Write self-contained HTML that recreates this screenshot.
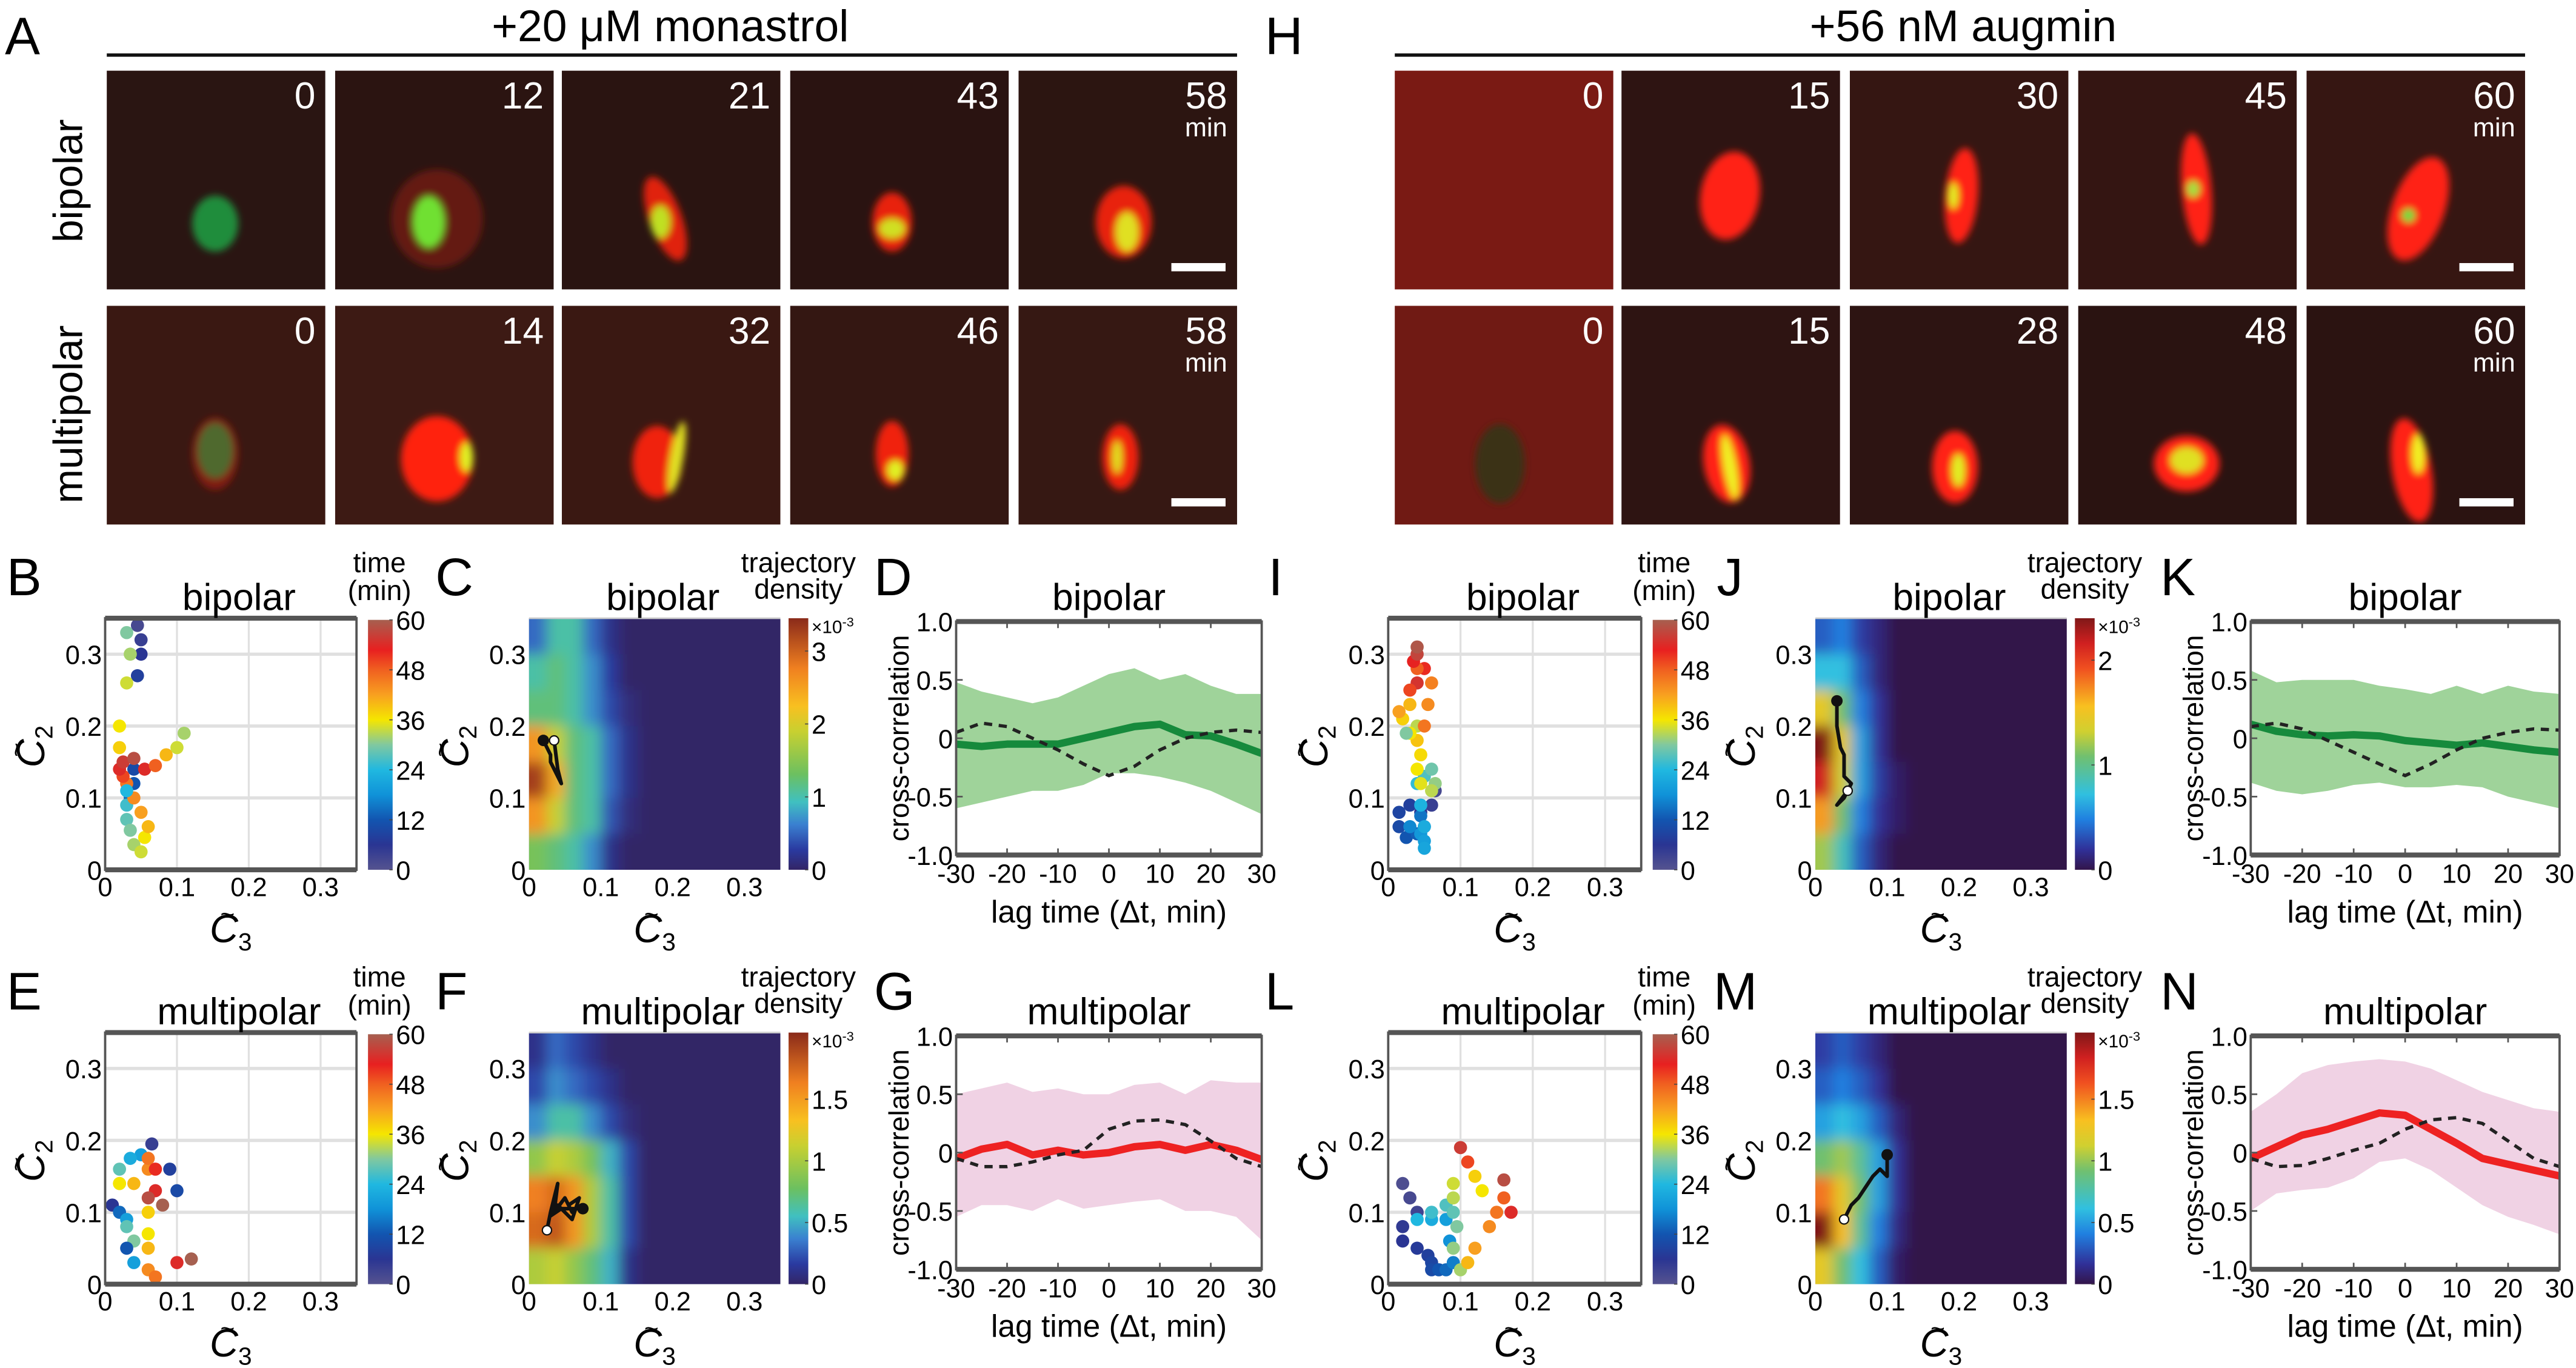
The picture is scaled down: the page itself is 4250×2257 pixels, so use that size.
<!DOCTYPE html>
<html><head><meta charset="utf-8">
<style>
html,body{margin:0;padding:0;background:#fff;}
svg{display:block;}
text{font-family:"Liberation Sans Narrow","Liberation Sans",sans-serif;}
</style></head>
<body>
<svg id="fig" xmlns="http://www.w3.org/2000/svg" width="4250" height="2257" viewBox="0 0 1568 832" preserveAspectRatio="none">
<defs>
<filter id="blurImg" x="-50%" y="-50%" width="200%" height="200%"><feGaussianBlur stdDeviation="2.2"/></filter>
<filter id="blurHeat" x="-20%" y="-20%" width="140%" height="140%"><feGaussianBlur stdDeviation="4"/></filter>
</defs>
</svg>
<script>
// ---------------- DATA ----------------
const lags = [-30,-25,-20,-15,-10,-5,0,5,10,15,20,25,30];
// D: monastrol bipolar
const dMean  = [-0.05,-0.07,-0.05,-0.05,-0.05,0.0,0.05,0.1,0.12,0.03,0.02,-0.05,-0.13];
const dUpper = [0.48,0.4,0.35,0.3,0.35,0.45,0.55,0.6,0.5,0.55,0.45,0.38,0.38];
const dLower = [-0.6,-0.55,-0.5,-0.45,-0.45,-0.4,-0.3,-0.3,-0.33,-0.38,-0.45,-0.55,-0.65];
const dDash  = [0.05,0.13,0.1,0.0,-0.1,-0.22,-0.32,-0.24,-0.1,0.0,0.05,0.07,0.05];
// G: monastrol multipolar
const gMean  = [-0.05,0.03,0.07,-0.02,0.02,-0.02,0.0,0.05,0.07,0.02,0.07,0.02,-0.06];
const gUpper = [0.5,0.55,0.6,0.52,0.55,0.5,0.5,0.58,0.6,0.5,0.62,0.6,0.6];
const gLower = [-0.55,-0.45,-0.45,-0.5,-0.4,-0.48,-0.45,-0.42,-0.4,-0.5,-0.5,-0.55,-0.75];
const gDash  = [-0.05,-0.12,-0.12,-0.08,-0.02,0.02,0.2,0.27,0.28,0.24,0.1,-0.05,-0.12];
// K: augmin bipolar
const kMean  = [0.12,0.06,0.03,0.02,0.03,0.02,-0.02,-0.04,-0.06,-0.04,-0.07,-0.1,-0.12];
const kUpper = [0.58,0.48,0.5,0.5,0.5,0.45,0.42,0.38,0.45,0.38,0.45,0.4,0.38];
const kLower = [-0.38,-0.45,-0.48,-0.45,-0.4,-0.38,-0.42,-0.42,-0.4,-0.42,-0.5,-0.55,-0.6];
const kDash  = [0.1,0.13,0.08,-0.02,-0.12,-0.22,-0.32,-0.22,-0.1,0.0,0.05,0.08,0.07];
// N: augmin multipolar
const nMean  = [-0.05,0.05,0.15,0.2,0.27,0.34,0.32,0.2,0.08,-0.05,-0.1,-0.15,-0.2];
const nUpper = [0.35,0.5,0.68,0.75,0.78,0.8,0.78,0.72,0.62,0.52,0.45,0.38,0.35];
const nLower = [-0.5,-0.35,-0.32,-0.3,-0.22,-0.08,-0.05,-0.15,-0.3,-0.45,-0.55,-0.62,-0.7];
const nDash  = [-0.05,-0.12,-0.11,-0.05,0.02,0.08,0.2,0.28,0.3,0.25,0.1,-0.05,-0.12];

// scatter trajectories: c3, c2, time
const bC3 = [0.045,0.05,0.05,0.045,0.04,0.04,0.035,0.03,0.03,0.035,0.04,0.05,0.055,0.06,0.05,0.04,0.03,0.025,0.02,0.025,0.04,0.055,0.07,0.085,0.1,0.11,0.03,0.035,0.03,0.02,0.02,0.03];
const bC2 = [0.34,0.32,0.3,0.27,0.14,0.12,0.1,0.09,0.07,0.055,0.035,0.025,0.045,0.06,0.08,0.1,0.12,0.13,0.14,0.15,0.155,0.14,0.145,0.16,0.17,0.19,0.33,0.3,0.26,0.2,0.17,0.11];
const bT  = [2,4,6,8,10,12,14,26,28,30,32,34,36,40,42,44,46,50,54,56,58,54,48,40,34,32,30,32,34,36,38,24];
const eC3 = [0.065,0.05,0.035,0.02,0.02,0.02,0.04,0.06,0.06,0.07,0.07,0.09,0.1,0.06,0.08,0.01,0.02,0.03,0.03,0.04,0.06,0.06,0.06,0.03,0.04,0.06,0.07,0.1,0.12];
const eC2 = [0.195,0.18,0.175,0.16,0.14,0.14,0.14,0.16,0.175,0.16,0.13,0.16,0.13,0.12,0.11,0.11,0.1,0.09,0.08,0.06,0.07,0.1,0.05,0.05,0.03,0.02,0.01,0.03,0.035];
const eT  = [4,20,22,28,34,36,40,44,46,52,54,8,10,58,60,6,14,20,28,30,36,38,40,12,20,44,46,54,60];
const iC3 = [0.065,0.06,0.045,0.03,0.015,0.015,0.025,0.04,0.05,0.045,0.03,0.045,0.05,0.05,0.05,0.045,0.04,0.05,0.06,0.065,0.06,0.045,0.04,0.045,0.04,0.04,0.03,0.02,0.03,0.015,0.025,0.05,0.055,0.06,0.05,0.04,0.03,0.04,0.035,0.04,0.04];
const iC2 = [0.11,0.09,0.08,0.09,0.08,0.06,0.045,0.05,0.06,0.075,0.06,0.05,0.04,0.03,0.06,0.09,0.12,0.13,0.14,0.12,0.11,0.12,0.14,0.16,0.18,0.2,0.19,0.21,0.23,0.22,0.19,0.2,0.23,0.26,0.28,0.26,0.25,0.28,0.29,0.3,0.31];
const iT  = [2,4,6,8,9,10,12,13,14,15,17,19,20,21,22,23,25,27,29,31,33,35,36,37,39,33,36,38,40,42,30,46,44,45,52,55,50,48,53,57,59];
const lC3 = [0.02,0.03,0.04,0.02,0.02,0.04,0.055,0.06,0.06,0.07,0.08,0.09,0.085,0.08,0.06,0.04,0.06,0.08,0.09,0.095,0.09,0.1,0.11,0.12,0.14,0.15,0.16,0.17,0.16,0.13,0.12,0.11,0.1,0.09,0.09];
const lC2 = [0.14,0.12,0.1,0.08,0.06,0.05,0.04,0.03,0.02,0.02,0.02,0.03,0.06,0.09,0.09,0.09,0.1,0.11,0.1,0.08,0.05,0.02,0.03,0.05,0.08,0.1,0.12,0.1,0.145,0.13,0.15,0.17,0.19,0.14,0.12];
const lT  = [1,2,3,5,6,7,8,9,10,12,14,16,18,20,22,24,26,27,28,30,31,32,40,42,44,46,48,54,58,36,38,50,56,34,33];

// heatmap density grids (rows from C2=0.35 down to 0 in 0.05 steps; cols from C3=0 in 0.025 steps, rest zero), normalized to colorbar max
const cGrid = [[0.15,0.3,0.3,0.15,0.05,0],[0.3,0.35,0.3,0.2,0.08,0],[0.35,0.35,0.3,0.2,0.1,0.03],[0.75,0.55,0.35,0.3,0.15,0.05],[0.95,0.7,0.35,0.3,0.15,0.05],[0.75,0.55,0.35,0.3,0.12,0.03],[0.4,0.35,0.3,0.2,0.05,0]];
const fGrid = [[0.05,0.15,0.1,0.05,0,0,0],[0.1,0.2,0.15,0.1,0.05,0,0],[0.2,0.3,0.3,0.2,0.1,0.03,0],[0.45,0.55,0.5,0.4,0.25,0.1,0],[0.8,0.85,0.75,0.5,0.3,0.1,0],[0.85,0.9,0.75,0.5,0.3,0.1,0],[0.5,0.55,0.45,0.35,0.25,0.05,0]];
const jGrid = [[0.15,0.2,0.1,0.05,0],[0.3,0.3,0.15,0.05,0],[0.6,0.45,0.2,0.08,0],[1.0,0.6,0.25,0.08,0],[0.9,0.55,0.25,0.1,0.03],[0.7,0.45,0.2,0.08,0.03],[0.5,0.35,0.15,0.05,0]];
const mGrid = [[0.1,0.15,0.1,0.05,0,0],[0.15,0.2,0.15,0.08,0,0],[0.25,0.3,0.25,0.15,0.05,0],[0.45,0.5,0.4,0.25,0.08,0],[0.75,0.6,0.45,0.25,0.08,0],[1.0,0.65,0.4,0.2,0.06,0],[0.6,0.45,0.3,0.15,0.03,0]];
// overlay trajectories
const cTrC3 = [0.02,0.025,0.03,0.03,0.035,0.04,0.045,0.04,0.035];
const cTrC2 = [0.18,0.17,0.16,0.15,0.14,0.13,0.12,0.14,0.18];
const fTrC3 = [0.025,0.03,0.04,0.035,0.05,0.06,0.055,0.07,0.06,0.05,0.04,0.03,0.045,0.075];
const fTrC2 = [0.075,0.1,0.14,0.1,0.12,0.1,0.11,0.12,0.09,0.1,0.11,0.095,0.105,0.105];
const jTrC3 = [0.03,0.03,0.035,0.04,0.04,0.05,0.045,0.04,0.03,0.045];
const jTrC2 = [0.235,0.2,0.17,0.16,0.13,0.12,0.11,0.1,0.09,0.11];
const mTrC3 = [0.04,0.045,0.05,0.06,0.07,0.08,0.09,0.1,0.1,0.1];
const mTrC2 = [0.09,0.1,0.11,0.12,0.135,0.15,0.16,0.15,0.16,0.18];

const tTicks = [0,12,24,36,48,60];
const axTicks = [0,0.1,0.2,0.3];
const lagTicks = [-30,-20,-10,0,10,20,30];
const ccTicks = [-1,-0.5,0,0.5,1];
const ccTickLabels = ['-1.0','-0.5','0','0.5','1.0'];

// ---------------- HELPERS ----------------
const NS='http://www.w3.org/2000/svg';
const svg=document.getElementById('fig');
const defs=svg.querySelector('defs');
function mk(tag,attrs,parent){const e=document.createElementNS(NS,tag);for(const k in attrs)e.setAttribute(k,attrs[k]);(parent||svg).appendChild(e);return e;}
function txt(x,y,s,size,anchor,parent,extra){const e=mk('text',Object.assign({x:x,y:y,'font-size':size,'text-anchor':anchor||'middle',fill:'#000'},extra||{}),parent);e.textContent=s;return e;}
function lin(d0,d1,r0,r1){return v=>r0+(v-d0)/(d1-d0)*(r1-r0);}
function hex(c){return [parseInt(c.slice(1,3),16),parseInt(c.slice(3,5),16),parseInt(c.slice(5,7),16)];}
function cmap(stops,v){v=Math.max(0,Math.min(1,v));for(let i=1;i<stops.length;i++){if(v<=stops[i][0]){const a=stops[i-1],b=stops[i];const f=(v-a[0])/(b[0]-a[0]||1);const A=hex(a[1]),B=hex(b[1]);return 'rgb('+A.map((x,k)=>Math.round(x+(B[k]-x)*f)).join(',')+')';}}return stops[stops.length-1][1];}
const timeCM=[[0,'#55538f'],[0.1,'#2a3593'],[0.2,'#1255b0'],[0.3,'#1092d8'],[0.4,'#20b8e0'],[0.5,'#80c8a0'],[0.6,'#f5e600'],[0.7,'#f8a020'],[0.8,'#f06020'],[0.88,'#e82020'],[1,'#a66050']];
const parCM=[[0,'#332566'],[0.08,'#2a3aa0'],[0.18,'#3a80d0'],[0.27,'#40c0c0'],[0.38,'#6cc060'],[0.55,'#c8d030'],[0.65,'#f8c020'],[0.8,'#f08020'],[1,'#8a2a1a']];
const jetCM=[[0,'#33154a'],[0.08,'#303098'],[0.2,'#2080e0'],[0.3,'#30c0e0'],[0.45,'#70c070'],[0.55,'#d0d030'],[0.65,'#f8c020'],[0.8,'#f05020'],[0.9,'#d02020'],[1,'#801818']];
let gid=0;

function colorbar(x,y0,y1,w,stops,ticks,labels,vmax,name,expo){
  const id='cg'+(gid++);
  const g=mk('linearGradient',{id:id,x1:0,y1:1,x2:0,y2:0},defs);
  stops.forEach(s=>mk('stop',{offset:s[0],'stop-color':s[1]},g));
  const r=mk('rect',{x:x,y:y0,width:w,height:y1-y0,fill:'url(#'+id+')'});
  
  
  const sy=lin(0,vmax,y1,y0);
  ticks.forEach((t,i)=>{
    const lb=txt(x+w+2,sy(t)+6,labels[i],16,'start');
    
    
    mk('line',{x1:x+w-2,x2:x+w,y1:sy(t),y2:sy(t),stroke:'#444','stroke-width':0.6});
  });
  if(expo){const e=txt(x+w+2,y0+9,'×10',11,'start');const sp=mk('tspan',{dy:-4,'font-size':8},e);sp.textContent='-3';}
}

function c3label(cx,y,parent){const e=txt(cx,y,'C',24,'middle',parent,{'font-style':'italic'});const s=mk('tspan',{dy:5,'font-size':15,'font-style':'normal'},e);s.textContent='3';const tl=txt(cx-2,y-12,'~',15,'middle',parent);return e;}
function c2label(x,cy){const g=mk('g',{transform:'translate('+x+','+cy+') rotate(-90)'});const e=txt(0,0,'C',24,'middle',g,{'font-style':'italic'});const s=mk('tspan',{dy:5,'font-size':15,'font-style':'normal'},e);s.textContent='2';txt(-2,-12,'~',15,'middle',g);return g;}

function ticksC(x0,x1,y0,y1,sx,sy,name){
  axTicks.forEach(t=>{
    const a=txt(sx(t),y1+16,String(t),16,'middle');
    
    
    const b=txt(x0-2,sy(t)+6,String(t),16,'end');
    
    
  });
}

function scatterPanel(x0,x1,y0,y1,c3,c2,t,title,name){
  const sx=lin(0,0.35,x0,x1), sy=lin(0,0.35,y1,y0);
  const bg=mk('rect',{x:x0,y:y0,width:x1-x0,height:y1-y0,fill:'#fff'});
  
  
  axTicks.slice(1).forEach(v=>{
    mk('line',{x1:sx(v),x2:sx(v),y1:y0,y2:y1,stroke:'#e0e0e0','stroke-width':1.2});
    mk('line',{x1:x0,x2:x1,y1:sy(v),y2:sy(v),stroke:'#e0e0e0','stroke-width':2});
  });
  c3.forEach((v,i)=>{
    const c=mk('circle',{cx:sx(v),cy:sy(c2[i]),r:4,fill:cmap(timeCM,t[i]/60)});
    
    
  });
  const box=mk('rect',{x:x0,y:y0,width:x1-x0,height:y1-y0,fill:'none',stroke:'#555','stroke-width':1.4});
  
  
  mk('line',{x1:x0,x2:x1,y1:y0,y2:y0,stroke:'#555','stroke-width':3});
  mk('line',{x1:x0,x2:x1,y1:y1,y2:y1,stroke:'#555','stroke-width':3});
  ticksC(x0,x1,y0,y1,sx,sy,name);
  const tt=txt((x0+x1)/2+5,y0-5,title,23,'middle');
  
  
  const xl=c3label((x0+x1)/2,y1+44);
  
  
  c2label(x0-37,y0+78);
  colorbar(x1+7,y0+1,y1,15,timeCM,tTicks,tTicks.map(String),60,name+'-time-colorbar',false);
  const t1=txt(x1+14,y0-28,'time',17,'middle');
  
  
  const t2=txt(x1+14,y0-11,'(min)',17,'middle');
  
  
}

function heatPanel(x0,x1,y0,y1,grid,stops,trC3,trC2,startWhiteIdx,cbTicks,cbLabels,vmax,title,name){
  const sx=lin(0,0.35,x0,x1), sy=lin(0,0.35,y1,y0);
  const cid='clip'+(gid++);
  const cp=mk('clipPath',{id:cid},defs);
  mk('rect',{x:x0,y:y0,width:x1-x0,height:y1-y0},cp);
  const g=mk('g',{'clip-path':'url(#'+cid+')'});
  
  
  mk('rect',{x:x0,y:y0,width:x1-x0,height:y1-y0,fill:cmap(stops,0)},g);
  const hg=mk('g',{filter:'url(#blurHeat)'},g);
  mk('rect',{x:x0-20,y:y0-20,width:x1-x0+40,height:y1-y0+40,fill:cmap(stops,0)},hg);
  const n=grid.length;
  grid.forEach((row,r)=>row.forEach((v,c)=>{
    const cx0=sx(c*0.025)-(c===0?20:0), cx1=sx((c+1)*0.025);
    const cy0=sy(0.35-r*0.05)-(r===0?20:0), cy1=sy(0.35-(r+1)*0.05)+(r===n-1?20:0);
    const cell=mk('rect',{x:cx0,y:cy0,width:cx1-cx0+0.5,height:cy1-cy0+0.5,fill:cmap(stops,v)},hg);
    
    
  }));
  const pts=trC3.map((v,i)=>sx(v)+','+sy(trC2[i])).join(' ');
  const pl=mk('polyline',{points:pts,fill:'none',stroke:'#111','stroke-width':2.2,'stroke-linejoin':'round'},g);
  
  
  const last=trC3.length-1;
  const bd=mk('circle',{cx:sx(trC3[startWhiteIdx===0?last:0]),cy:sy(trC2[startWhiteIdx===0?last:0]),r:3.5,fill:'#111'},g);
  
  
  const wd=mk('circle',{cx:sx(trC3[startWhiteIdx]),cy:sy(trC2[startWhiteIdx]),r:2.8,fill:'#fff',stroke:'#111','stroke-width':0.8},g);
  
  
  mk('line',{x1:x0,x2:x1,y1:y0,y2:y0,stroke:'#ccc','stroke-width':1});
  ticksC(x0,x1,y0,y1,sx,sy,name);
  const tt=txt((x0+x1)/2+5,y0-5,title,23,'middle');
  
  
  const xl=c3label((x0+x1)/2,y1+44);
  
  
  c2label(x0-37,y0+78);
  colorbar(x1+5,y0,y1,12,stops,cbTicks,cbLabels,vmax,name+'-density-colorbar',true);
  const t1=txt(x1+11,y0-28,'trajectory',17,'middle');
  
  
  const t2=txt(x1+11,y0-12,'density',17,'middle');
  
  
}

function xcorrPanel(x0,x1,y0,y1,mean,upper,lower,dash,lineCol,bandCol,title,name){
  const sx=lin(-30,30,x0,x1), sy=lin(-1,1,y1,y0);
  const cid='clip'+(gid++);
  const cp=mk('clipPath',{id:cid},defs);
  mk('rect',{x:x0,y:y0,width:x1-x0,height:y1-y0},cp);
  const g=mk('g',{'clip-path':'url(#'+cid+')'});
  const bandPts=lags.map((l,i)=>sx(l)+','+sy(upper[i])).concat(lags.slice().reverse().map((l,j)=>{const i=lags.length-1-j;return sx(l)+','+sy(lower[i]);})).join(' ');
  const band=mk('polygon',{points:bandPts,fill:bandCol},g);
  
  
  const ml=mk('polyline',{points:lags.map((l,i)=>sx(l)+','+sy(mean[i])).join(' '),fill:'none',stroke:lineCol,'stroke-width':4.5,'stroke-linejoin':'round'},g);
  
  
  const dl=mk('polyline',{points:lags.map((l,i)=>sx(l)+','+sy(dash[i])).join(' '),fill:'none',stroke:'#222','stroke-width':2,'stroke-dasharray':'5,4'},g);
  
  
  const box=mk('rect',{x:x0,y:y0,width:x1-x0,height:y1-y0,fill:'none',stroke:'#555','stroke-width':1.4});
  
  
  mk('line',{x1:x0,x2:x1,y1:y0,y2:y0,stroke:'#555','stroke-width':3});
  mk('line',{x1:x0,x2:x1,y1:y1,y2:y1,stroke:'#555','stroke-width':3});
  lagTicks.forEach(l=>{
    mk('line',{x1:sx(l),x2:sx(l),y1:y0,y2:y0+4,stroke:'#555','stroke-width':1});
    mk('line',{x1:sx(l),x2:sx(l),y1:y1,y2:y1-4,stroke:'#555','stroke-width':1});
    const a=txt(sx(l),y1+17,String(l),16,'middle');
    
    
  });
  ccTicks.forEach((v,i)=>{
    mk('line',{x1:x0,x2:x0+4,y1:sy(v),y2:sy(v),stroke:'#555','stroke-width':1});
    const b=txt(x0-2,sy(v)+6,ccTickLabels[i],16,'end');
    
    
  });
  const tt=txt((x0+x1)/2,y0-7,title,23,'middle');
  
  
  const xl=txt((x0+x1)/2,y1+41,'lag time (Δt, min)',19,'middle');
  
  
  const yl=txt(0,0,'cross-correlation',17,'middle',null,{transform:'translate('+(x0-29)+','+((y0+y1)/2)+') rotate(-90)',style:'font-family:"Liberation Sans",sans-serif'});
  
  
}

// ---------------- MICROSCOPY ----------------
const frameXA=[65,204,342,481,620], frameXH=[849,987,1126,1265,1404];
const frameW=133, frameRowY=[43,186], frameH=133;
const labA=[['0','12','21','43','58'],['0','14','32','46','58']];
const labH=[['0','15','30','45','60'],['0','15','28','48','60']];
const bgA=[['#2a1512','#2b1411','#2a1411','#2a1311','#2c1511'],['#3a1812','#3d1a14','#3a1812','#341712','#361813']];
const bgH=[['#7a1a14','#2e1412','#351612','#341512','#361612'],['#701a14','#2e1412','#2d1412','#2a1311','#2b1311']];
// blobs: [cx,cy,rx,ry,rot,color,opacity]
const blobsA=[
 [[[66,93,14,17,0,'#1f9a40',0.9]],[[62,90,28,30,0,'#8a1a10',0.6],[57,92,10,16,0,'#70e030',1]],[[63,90,10,27,-20,'#e02010',1],[60,92,6,10,0,'#c0e020',1]],[[62,92,12,18,0,'#e82010',1],[62,96,8,6,0,'#d0e020',1]],[[64,92,17,22,0,'#e82010',1],[66,98,7,12,0,'#e0e020',1]]],
 [[[66,90,14,22,0,'#a02010',0.7],[66,88,11,17,0,'#3a8a3a',0.7]],[[62,93,22,26,0,'#ff2010',1],[80,92,4,9,0,'#e0f020',1]],[[58,95,15,22,0,'#f02010',1],[70,92,4,22,10,'#e0e020',1]],[[62,90,10,20,0,'#f02010',1],[64,100,5,6,0,'#e0f020',1]],[[62,92,11,20,0,'#f02010',1],[60,92,3,10,0,'#e0e020',1]]]
];
const blobsH=[
 [[],[[66,76,18,27,10,'#ff2418',1]],[[68,76,10,29,5,'#ff2418',1],[63,76,3,8,0,'#e0f020',1]],[[72,72,9,34,-5,'#ff2418',1],[70,72,4,5,0,'#a0e040',1]],[[68,84,16,33,20,'#ff2418',1],[62,88,4,4,0,'#60e040',1]]],
 [[[64,96,15,24,0,'#3a3018',1]],[[64,96,14,24,-10,'#ff2418',1],[66,98,4,20,-10,'#f0f020',1]],[[64,98,14,22,0,'#ff2418',1],[66,100,4,10,0,'#e0f020',1]],[[66,96,20,17,0,'#ff2418',1],[66,94,10,8,0,'#e0e020',1]],[[64,100,12,32,-10,'#ff2418',1],[68,90,4,12,0,'#f0f020',1]]]
];
function frames(xs,labs,bgs,blobs,group){
  for(let r=0;r<2;r++)for(let c=0;c<5;c++){
    const x=xs[c],y=frameRowY[r];
    const g=mk('g',{});
    
    
    const cid='clip'+(gid++);const cp=mk('clipPath',{id:cid},defs);mk('rect',{x:x,y:y,width:frameW,height:frameH},cp);
    mk('rect',{x:x,y:y,width:frameW,height:frameH,fill:bgs[r][c]},g);
    const bg=mk('g',{filter:'url(#blurImg)','clip-path':'url(#'+cid+')'},g);
    blobs[r][c].forEach(b=>mk('ellipse',{cx:x+b[0],cy:y+b[1],rx:b[2],ry:b[3],fill:b[5],opacity:b[6],transform:'rotate('+b[4]+','+(x+b[0])+','+(y+b[1])+')'},bg));
    const tl=txt(x+frameW-6,y+23,labs[r][c],23,'end',g,{fill:'#fff'});
    
    
    if(c===4){
      const m=txt(x+frameW-6,y+40,'min',16,'end',g,{fill:'#fff'});
      
      
      const sb=mk('rect',{x:x+frameW-40,y:y+frameH-16,width:33,height:5,fill:'#fff'},g);
      
      
    }
  }
}
frames(frameXA,labA,bgA,blobsA,'monastrol');
frames(frameXH,labH,bgH,blobsH,'augmin');

// headers
[['+20 μM monastrol',408,65,753,'monastrol-header'],['+56 nM augmin',1195,849,1537,'augmin-header']].forEach(h=>{
  const t=txt(h[1],25,h[0],27,'middle');
  
  
  const l=mk('line',{x1:h[2],x2:h[3],y1:33.5,y2:33.5,stroke:'#111','stroke-width':2});
  
  
});
[['bipolar',110],['multipolar',252]].forEach(r=>{
  const t=txt(0,0,r[0],25,'middle',null,{transform:'translate(50,'+r[1]+') rotate(-90)',style:'font-family:"Liberation Sans",sans-serif'});
  
  
});

// panel letters
[['A',3,33],['H',770,33],['B',4,362],['C',265,362],['D',532,362],['E',4,614],['F',265,614],['G',532,614],['I',772,362],['J',1045,362],['K',1315,362],['L',770,614],['M',1043,614],['N',1315,614]].forEach(p=>{
  const t=txt(p[1],p[2],p[0],32,'start');
  
  
});

// ---------------- PANELS ----------------
const R1=376,R2=628;
scatterPanel(64,217,R1,R1+153,bC3,bC2,bT,'bipolar','panel-b');
scatterPanel(64,217,R2,R2+153,eC3,eC2,eT,'multipolar','panel-e');
scatterPanel(845,999,R1,R1+153,iC3,iC2,iT,'bipolar','panel-i');
scatterPanel(845,999,R2,R2+153,lC3,lC2,lT,'multipolar','panel-l');
heatPanel(322,475,R1,R1+153,cGrid,parCM,cTrC3,cTrC2,8,[0,1,2,3],['0','1','2','3'],3.45,'bipolar','panel-c');
heatPanel(322,475,R2,R2+153,fGrid,parCM,fTrC3,fTrC2,0,[0,0.5,1,1.5],['0','0.5','1','1.5'],2.04,'multipolar','panel-f');
heatPanel(1105,1258,R1,R1+153,jGrid,jetCM,jTrC3,jTrC2,9,[0,1,2],['0','1','2'],2.4,'bipolar','panel-j');
heatPanel(1105,1258,R2,R2+153,mGrid,jetCM,mTrC3,mTrC2,0,[0,0.5,1,1.5],['0','0.5','1','1.5'],2.04,'multipolar','panel-m');
xcorrPanel(582,768,378,520,dMean,dUpper,dLower,dDash,'#168a3c','#9fd39a','bipolar','panel-d');
xcorrPanel(582,768,630,772,gMean,gUpper,gLower,gDash,'#ee2222','#f0d2e4','multipolar','panel-g');
xcorrPanel(1370,1558,378,520,kMean,kUpper,kLower,kDash,'#168a3c','#9fd39a','bipolar','panel-k');
xcorrPanel(1370,1558,630,772,nMean,nUpper,nLower,nDash,'#ee2222','#f0d2e4','multipolar','panel-n');
</script>
</body></html>
